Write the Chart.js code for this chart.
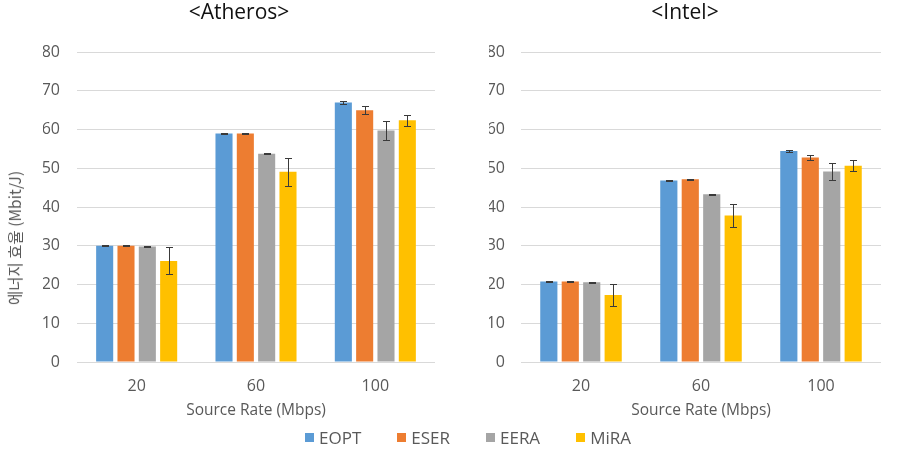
<!DOCTYPE html>
<html><head><meta charset="utf-8">
<script src="https://cdn.jsdelivr.net/npm/chart.js@4"></script>
<style>
html,body{margin:0;padding:0;background:#fff;width:898px;height:452px;overflow:hidden;font-family:'Open Sans','Noto Sans CJK KR',sans-serif;}
#leftWrap{position:absolute;left:0;top:0;width:450px;height:452px;}
#rightWrap{position:absolute;left:450px;top:0;width:448px;height:452px;}
#ytitle{position:absolute;left:14px;top:238px;transform:translate(-50%,-50%) rotate(-90deg);white-space:nowrap;font-size:15.5px;color:#595959;font-family:'Noto Sans CJK KR','Open Sans',sans-serif;}
#legend{position:absolute;left:305px;top:426px;display:flex;align-items:center;font-size:17px;color:#595959;}
.li{display:flex;align-items:center;margin-right:36px;}
.sw{width:9px;height:9px;margin-right:5px;}
</style>
</head><body>
<div id="leftWrap"><canvas id="cLeft"></canvas></div>
<div id="rightWrap"><canvas id="cRight"></canvas></div>
<div id="ytitle">에너지 효율 (Mbit/J)</div>
<div id="legend"></div>
<script>
const categories = ['20', '60', '100'];
const seriesNames = ['EOPT', 'ESER', 'EERA', 'MiRA'];
const seriesColors = ['#5B9BD5', '#ED7D31', '#A5A5A5', '#FFC000'];
const yTicks = [0, 10, 20, 30, 40, 50, 60, 70, 80];

const atherosEOPT = [30.0, 59.0, 67.0];
const atherosESER = [30.0, 59.0, 65.0];
const atherosEERA = [29.8, 53.8, 59.8];
const atherosMiRA = [26.1, 49.1, 62.4];
const atherosErrEOPT = [0.1, 0.1, 0.3];
const atherosErrESER = [0.1, 0.1, 1.0];
const atherosErrEERA = [0.1, 0.2, 2.4];
const atherosErrMiRA = [3.5, 3.6, 1.5];

const intelEOPT = [20.8, 46.9, 54.5];
const intelESER = [20.8, 47.2, 52.8];
const intelEERA = [20.6, 43.3, 49.2];
const intelMiRA = [17.3, 37.8, 50.7];
const intelErrEOPT = [0.1, 0.1, 0.3];
const intelErrESER = [0.1, 0.1, 0.6];
const intelErrEERA = [0.1, 0.2, 2.1];
const intelErrMiRA = [2.9, 3.0, 1.5];

const FONT = "'Open Sans','Noto Sans CJK KR',sans-serif";
const TXT = '#595959';

const errorBars = {
  id: 'errorBars',
  afterDatasetsDraw(chart) {
    const ctx = chart.ctx, y = chart.scales.y;
    chart.data.datasets.forEach((ds, i) => {
      const meta = chart.getDatasetMeta(i);
      meta.data.forEach((bar, j) => {
        const v = ds.data[j], e = ds.errors[j];
        const yt = Math.round(y.getPixelForValue(v + e)) + 0.5;
        const yb = Math.round(y.getPixelForValue(v - e)) + 0.5;
        const x = Math.round(bar.x) + 0.5;
        ctx.save();
        ctx.strokeStyle = '#3a3a3a';
        ctx.lineWidth = 1;
        ctx.beginPath();
        ctx.moveTo(x, yt); ctx.lineTo(x, yb);
        ctx.moveTo(x - 3.5, yt); ctx.lineTo(x + 3.5, yt);
        ctx.moveTo(x - 3.5, yb); ctx.lineTo(x + 3.5, yb);
        ctx.stroke();
        ctx.restore();
      });
    });
  }
};

function makeChart(id, title, vals, errs, padL, axisW, padR, tickPad) {
  return new Chart(document.getElementById(id), {
    type: 'bar',
    data: {
      labels: categories,
      datasets: seriesNames.map((n, i) => ({
        label: n, data: vals[i], errors: errs[i],
        backgroundColor: seriesColors[i], borderWidth: 0,
        categoryPercentage: 0.715, barPercentage: 0.8
      }))
    },
    options: {
      responsive: true, maintainAspectRatio: false, animation: false,
      layout: { padding: { left: padL, right: padR, top: 0, bottom: 30 } },
      plugins: {
        legend: { display: false },
        tooltip: { enabled: false },
        title: { display: true, text: title, color: '#111',
          font: { family: FONT, size: 21, weight: 'normal' }, padding: { top: 0, bottom: 27 } }
      },
      scales: {
        x: {
          grid: { display: false }, border: { display: false },
          ticks: { color: TXT, font: { family: FONT, size: 16 }, padding: 7 },
          title: { display: true, text: 'Source Rate (Mbps)', color: TXT,
            font: { family: FONT, size: 15.5 }, padding: { top: 0, bottom: 2 } },
          afterFit(s) { s.height = 60; }
        },
        y: {
          min: 0, max: 80,
          afterBuildTicks(s) { s.ticks = yTicks.map(v => ({ value: v })); },
          grid: { color: '#D9D9D9', lineWidth: 1, drawTicks: false },
          border: { display: false },
          ticks: { color: TXT, font: { family: FONT, size: 16 }, padding: tickPad },
          afterFit(s) { s.width = axisW; }
        }
      }
    },
    plugins: [errorBars]
  });
}

makeChart('cLeft', '<Atheros>',
  [atherosEOPT, atherosESER, atherosEERA, atherosMiRA],
  [atherosErrEOPT, atherosErrESER, atherosErrEERA, atherosErrMiRA], 43, 34, 15, 17);
makeChart('cRight', '<Intel>',
  [intelEOPT, intelESER, intelEERA, intelMiRA],
  [intelErrEOPT, intelErrESER, intelErrEERA, intelErrMiRA], 39, 32, 17, 16);

const lg = document.getElementById('legend');
seriesNames.forEach((n, i) => {
  const d = document.createElement('div'); d.className = 'li';
  const s = document.createElement('div'); s.className = 'sw'; s.style.background = seriesColors[i];
  const t = document.createElement('span'); t.textContent = n;
  d.appendChild(s); d.appendChild(t); lg.appendChild(d);
});
</script>
</body></html>
